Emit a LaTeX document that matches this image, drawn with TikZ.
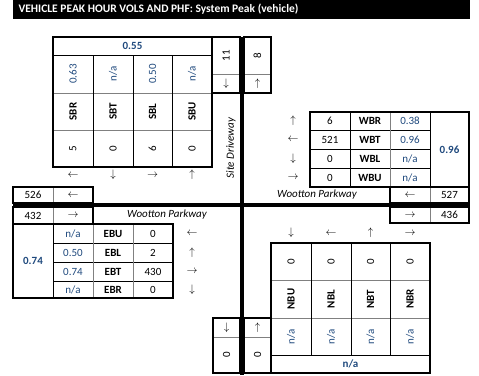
\documentclass[tikz,border=0pt]{standalone}
\usepackage{fontspec}
\setmainfont{Carlito}
\definecolor{phfblue}{RGB}{31,73,125}
\definecolor{gridgray}{RGB}{128,128,128}
\tikzset{
  box/.style={draw=black, line width=1.5pt},
  gline/.style={draw=gridgray, line width=1pt},
  bline/.style={draw=black, line width=1pt},
  road/.style={line width=4pt},
  cell/.style={inner sep=0pt, font=\fontsize{11}{13}\selectfont},
  phf/.style={cell, text=phfblue},
  lab/.style={cell, font=\fontsize{11}{13}\selectfont\bfseries},
  tot/.style={lab, text=phfblue},
  street/.style={cell, font=\fontsize{11}{13}\selectfont\itshape},
  vert/.style={rotate=90},
  arr/.style={inner sep=0pt, font=\fontsize{10.5}{12}\selectfont}
}
\begin{document}
\begin{tikzpicture}[x=1pt,y=-1pt]
            \useasboundingbox (0,0) rectangle (479,375);
            % title bar
            \fill (13,0) rectangle (470,19);
            \node[anchor=west, text=white, font=\fontsize{11.5}{13}\selectfont\bfseries] (title) at (15,9.5) {VEHICLE PEAK HOUR VOLS AND PHF: System Peak (vehicle)};
            % roads
            \draw[road] (242,37) -- (242,375);
            \draw[road] (13,205) -- (470,205);
            % southbound approach
            \draw[gline] (53,93) -- (212,93) (53,130) -- (212,130);
            \draw[bline] (53,55) -- (212,55) (93,55) -- (93,167) (133,55) -- (133,167) (172,55) -- (172,167);
            \draw[box] (53,37) rectangle (212,167);
            \node[tot] (sbphf) at (132.5,46) {0.55};
            \node[phf,vert] (sbrphf) at (73,74) {0.63};
            \node[phf,vert] (sbtphf) at (113,74) {n/a};
            \node[phf,vert] (sblphf) at (152.5,74) {0.50};
            \node[phf,vert] (sbuphf) at (192,74) {n/a};
            \node[lab,vert] (sbrlab) at (73,111.5) {SBR};
            \node[lab,vert] (sbtlab) at (113,111.5) {SBT};
            \node[lab,vert] (sbllab) at (152.5,111.5) {SBL};
            \node[lab,vert] (sbulab) at (192,111.5) {SBU};
            \node[cell,vert] (sbrvol) at (73,148.5) {5};
            \node[cell,vert] (sbtvol) at (113,148.5) {0};
            \node[cell,vert] (sblvol) at (152.5,148.5) {6};
            \node[cell,vert] (sbuvol) at (192,148.5) {0};
            \node[arr] (sbrarr) at (73,175) {$\leftarrow$};
            \node[arr] (sbtarr) at (113,175) {$\downarrow$};
            \node[arr] (sblarr) at (152.5,175) {$\rightarrow$};
            \node[arr] (sbuarr) at (192,175) {$\uparrow$};
            % north leg in/out
            \draw[gline] (212,74) -- (240,74) (244,74) -- (271,74);
            \draw[box] (212,37) rectangle (240,93);
            \draw[box] (244,37) rectangle (271,93);
            \node[cell,vert] (nin) at (226,55.5) {11};
            \node[arr] (ninarr) at (226,83.5) {$\downarrow$};
            \node[cell,vert] (nout) at (257.5,55.5) {8};
            \node[arr] (noutarr) at (257.5,83.5) {$\uparrow$};
            \node[street,vert] (site) at (231,148) {Site Driveway};
            % westbound approach
            \draw[bline] (310,130) -- (430,130) (310,149) -- (430,149) (310,168) -- (430,168);
            \draw[bline] (350,112) -- (350,187) (430,112) -- (430,187);
            \draw[gline] (390,112) -- (390,187);
            \draw[box] (310,112) rectangle (469,187);
            \node[tot] (wbphf) at (449.5,149.5) {0.96};
            \node[cell] (wbrvol) at (330,121) {6};
            \node[cell] (wbtvol) at (330,139.5) {521};
            \node[cell] (wblvol) at (330,158.5) {0};
            \node[cell] (wbuvol) at (330,177.5) {0};
            \node[lab] (wbrlab) at (370,121) {WBR};
            \node[lab] (wbtlab) at (370,139.5) {WBT};
            \node[lab] (wbllab) at (370,158.5) {WBL};
            \node[lab] (wbulab) at (370,177.5) {WBU};
            \node[phf] (wbrphf) at (410,121) {0.38};
            \node[phf] (wbtphf) at (410,139.5) {0.96};
            \node[phf] (wblphf) at (410,158.5) {n/a};
            \node[phf] (wbuphf) at (410,177.5) {n/a};
            \node[arr] (wbrarr) at (293,121) {$\uparrow$};
            \node[arr] (wbtarr) at (293,139.5) {$\leftarrow$};
            \node[arr] (wblarr) at (293,158.5) {$\downarrow$};
            \node[arr] (wbuarr) at (293,177.5) {$\rightarrow$};
            % east leg in/out
            \draw[gline] (430,187) -- (430,203) (430,207) -- (430,223);
            \draw[box] (390,187) rectangle (469,203);
            \draw[box] (390,207) rectangle (469,223);
            \node[arr] (einarr) at (410,195) {$\leftarrow$};
            \node[cell] (ein) at (449.5,195) {527};
            \node[arr] (eoutarr) at (410,215) {$\rightarrow$};
            \node[cell] (eout) at (449.5,215) {436};
            \node[street] (woottone) at (317,195) {Wootton Parkway};
            % west leg in/out
            \draw[gline] (53,187) -- (53,203) (53,207) -- (53,224);
            \draw[box] (13,187) rectangle (93,203);
            \draw[box] (13,207) rectangle (93,224);
            \node[cell] (win) at (33,195) {526};
            \node[arr] (winarr) at (73,195) {$\leftarrow$};
            \node[cell] (wout) at (33,215.5) {432};
            \node[arr] (woutarr) at (73,215.5) {$\rightarrow$};
            \node[street] (woottonw) at (167,215) {Wootton Parkway};
            % eastbound approach
            \draw[bline] (53,243) -- (173,243) (53,262) -- (173,262) (53,281) -- (173,281) (53,224) -- (53,298);
            \draw[gline] (93,224) -- (93,298) (133,224) -- (133,298);
            \draw[box] (13,224) rectangle (173,298);
            \node[tot] (ebphf) at (33,261) {0.74};
            \node[phf] (ebuphf) at (73,233.5) {n/a};
            \node[phf] (eblphf) at (73,252.5) {0.50};
            \node[phf] (ebtphf) at (73,271.5) {0.74};
            \node[phf] (ebrphf) at (73,289.5) {n/a};
            \node[lab] (ebulab) at (113,233.5) {EBU};
            \node[lab] (ebllab) at (113,252.5) {EBL};
            \node[lab] (ebtlab) at (113,271.5) {EBT};
            \node[lab] (ebrlab) at (113,289.5) {EBR};
            \node[cell] (ebuvol) at (153,233.5) {0};
            \node[cell] (eblvol) at (153,252.5) {2};
            \node[cell] (ebtvol) at (153,271.5) {430};
            \node[cell] (ebrvol) at (153,289.5) {0};
            \node[arr] (ebuarr) at (192,233.5) {$\leftarrow$};
            \node[arr] (eblarr) at (192,252.5) {$\uparrow$};
            \node[arr] (ebtarr) at (192,271.5) {$\rightarrow$};
            \node[arr] (ebrarr) at (192,289.5) {$\downarrow$};
            % northbound approach
            \draw[gline] (271,280) -- (430,280) (271,318) -- (430,318);
            \draw[bline] (271,355) -- (430,355) (311,243) -- (311,355) (351,243) -- (351,355) (390,243) -- (390,355);
            \draw[box] (271,243) rectangle (430,373);
            \node[arr] (nbuarr) at (291,233) {$\downarrow$};
            \node[arr] (nblarr) at (331,233) {$\leftarrow$};
            \node[arr] (nbtarr) at (370.5,233) {$\uparrow$};
            \node[arr] (nbrarr) at (410,233) {$\rightarrow$};
            \node[cell,vert] (nbuvol) at (291,261.5) {0};
            \node[cell,vert] (nblvol) at (331,261.5) {0};
            \node[cell,vert] (nbtvol) at (370.5,261.5) {0};
            \node[cell,vert] (nbrvol) at (410,261.5) {0};
            \node[lab,vert] (nbulab) at (291,299) {NBU};
            \node[lab,vert] (nbllab) at (331,299) {NBL};
            \node[lab,vert] (nbtlab) at (370.5,299) {NBT};
            \node[lab,vert] (nbrlab) at (410,299) {NBR};
            \node[phf,vert] (nbuphf) at (291,336.5) {n/a};
            \node[phf,vert] (nblphf) at (331,336.5) {n/a};
            \node[phf,vert] (nbtphf) at (370.5,336.5) {n/a};
            \node[phf,vert] (nbrphf) at (410,336.5) {n/a};
            \node[tot] (nbphf) at (350.5,364) {n/a};
            % south leg in/out
            \draw[gline] (213,337) -- (240,337) (244,337) -- (271,337);
            \draw[box] (213,318) rectangle (240,373);
            \draw[box] (244,318) rectangle (271,373);
            \node[arr] (soutarr) at (226.5,327.5) {$\downarrow$};
            \node[cell,vert] (sout) at (226.5,355) {0};
            \node[arr] (sinarr) at (257.5,327.5) {$\uparrow$};
            \node[cell,vert] (sin) at (257.5,355) {0};
        \end{tikzpicture}
\end{document}
